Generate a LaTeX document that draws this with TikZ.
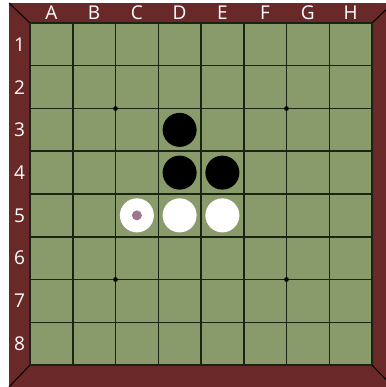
\documentclass[tikz,border=0pt]{standalone}
\usepackage{fontspec}
\setmainfont{Open Sans}
\definecolor{framec}{HTML}{6A2929}
\definecolor{feltc}{HTML}{8A9B6B}
\definecolor{gridc}{HTML}{1A2414}
\definecolor{markc}{HTML}{9E7590}
\begin{document}
\begin{tikzpicture}[x=1pt,y=-1pt,
  lab/.style={text=white,font=\fontsize{19}{22}\selectfont,inner sep=0pt},
  bstone/.style={fill=black,draw=none},
  wstone/.style={fill=white,draw=none}]
\useasboundingbox (0,0) rectangle (385,387);
\def\c{42.75}
% frame
\fill[framec] (9,3) rectangle (393,387);
\draw[line width=1pt] (9,3) -- (30,23);
\draw[line width=1pt] (9,387) -- (30,365);
\draw[line width=1pt] (393,3) -- (372,23);
\draw[line width=1pt] (393,387) -- (372,365);
% felt
\fill[feltc] (30,23) rectangle (372,365);
\foreach \i in {0,...,8} {
  \draw[gridc,line width=1.5pt] ({30+\i*\c},23) -- ({30+\i*\c},365);
  \draw[gridc,line width=1.5pt] (30,{23+\i*\c}) -- (372,{23+\i*\c});
}
% star points
\foreach \x/\y in {2/2,6/2,2/6,6/6}
  \fill[black] ({30+\x*\c},{23+\y*\c}) circle (2.4);
% labels
\foreach \l [count=\i from 0] in {A,B,C,D,E,F,G,H}
  \node[lab] (col\l) at ({30+(\i+0.5)*\c},13) {\l};
\foreach \n [count=\i from 0] in {1,...,8}
  \node[lab] (row\n) at (19.5,{23+(\i+0.5)*\c}) {\n};
% stones
\foreach \x/\y in {3/2,3/3,4/3}
  \fill[bstone] ({30+(\x+0.5)*\c},{23+(\y+0.5)*\c}) circle (17);
\foreach \x/\y in {2/4,3/4,4/4}
  \fill[wstone] ({30+(\x+0.5)*\c},{23+(\y+0.5)*\c}) circle (17);
\fill[markc] ({30+2.5*\c},{23+4.5*\c}) circle (5);
\end{tikzpicture}
\end{document}
